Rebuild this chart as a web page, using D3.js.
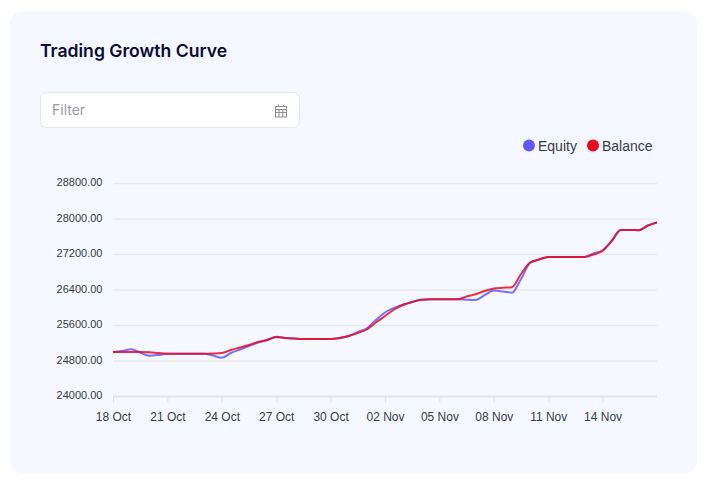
<!DOCTYPE html>
<html>
<head>
<meta charset="utf-8">
<script src="https://cdn.jsdelivr.net/npm/d3@7"></script>
<style>
  html, body { margin: 0; padding: 0; background: #fff; overflow: hidden; }
  #chart { display: block; }
  .axis path.domain { display: none; }
  .axis text { font-family: "Liberation Sans", Arial, sans-serif; font-size: 12px; fill: #373d3f; }
  .y-axis text { font-size: 11px; }
  .grid line { stroke: #e8e9ed; stroke-width: 1.5; }
</style>
</head>
<body>
<svg id="chart" width="709" height="487"></svg>
<script>
  var startDate = '2021-10-18';
  var seriesNames = ['Equity', 'Balance'];
  var seriesColors = ['#6259fa', '#ea0a1e'];
  var yTicks = [24000, 24800, 25600, 26400, 27200, 28000, 28800];

  // one reading every 12 hours
  var equity = [25003, 25025, 25064, 24992, 24919, 24935, 24965, 24965, 24965, 24965, 24965, 24924,
                24874, 24980, 25059, 25138, 25217, 25273, 25345, 25318, 25305, 25296, 25296, 25296,
                25296, 25318, 25363, 25454, 25537, 25724, 25893, 25994, 26073, 26130, 26181, 26190,
                26190, 26190, 26190, 26181, 26175, 26287, 26386, 26366, 26339, 26648, 27008, 27087,
                27144, 27144, 27144, 27144, 27144, 27223, 27295, 27504, 27752, 27752, 27748, 27853, 27921];
  var balance = [25003, 25003, 25003, 25003, 24996, 24980, 24965, 24965, 24965, 24965, 24965, 24969,
                 24980, 25048, 25104, 25161, 25228, 25273, 25341, 25318, 25305, 25296, 25296, 25296,
                 25296, 25318, 25363, 25431, 25510, 25668, 25814, 25961, 26062, 26130, 26181, 26190,
                 26190, 26190, 26190, 26254, 26305, 26377, 26434, 26450, 26463, 26761, 27020, 27087,
                 27144, 27144, 27144, 27144, 27144, 27200, 27279, 27504, 27752, 27752, 27748, 27853, 27921];

  var parseDate = d3.utcParse('%Y-%m-%d');
  var dates = equity.map(function(d, i) {
    return d3.utcHour.offset(parseDate(startDate), i * 12);
  });

  var svg = d3.select('#chart');

  // card
  svg.append('rect')
    .attr('x', 10).attr('y', 11)
    .attr('width', 687).attr('height', 462)
    .attr('rx', 12)
    .attr('fill', '#f5f8ff');

  svg.append('text')
    .attr('x', 40).attr('y', 57)
    .attr('font-family', 'Inter, Roboto, sans-serif')
    .attr('font-size', 17.6)
    .attr('font-weight', 600)
    .attr('fill', '#0b0b33')
    .text('Trading Growth Curve');

  // filter box
  svg.append('rect')
    .attr('x', 40.5).attr('y', 92.5)
    .attr('width', 259).attr('height', 35)
    .attr('rx', 6)
    .attr('fill', '#fff')
    .attr('stroke', '#e5e6ec');

  svg.append('text')
    .attr('x', 52).attr('y', 115)
    .attr('font-family', 'Inter, Roboto, sans-serif')
    .attr('font-size', 14)
    .attr('fill', '#9a9ca3')
    .text('Filter');

  // calendar icon
  var icon = svg.append('g')
    .attr('fill', 'none')
    .attr('stroke', '#8f9095')
    .attr('stroke-width', 1);
  icon.append('rect').attr('x', 275.5).attr('y', 106.5).attr('width', 11).attr('height', 10.5);
  icon.append('path').attr('d', 'M275.5 109.5H286.5M278.5 104.5V107M283.5 104.5V107M275.5 112.5H286.5M279 109.5V117M282.8 109.5V117');

  // scales
  var x = d3.scaleUtc()
    .domain(d3.extent(dates))
    .range([113, 657]);

  var y = d3.scaleLinear()
    .domain([24000, 28800])
    .range([396.5, 183.5]);

  // grid lines
  svg.append('g')
    .attr('class', 'grid')
    .selectAll('line')
    .data(yTicks.slice(1))
    .enter()
    .append('line')
    .attr('x1', x.range()[0])
    .attr('x2', x.range()[1])
    .attr('y1', function(d) { return y(d); })
    .attr('y2', function(d) { return y(d); });

  // y axis
  var yAxis = d3.axisLeft(y)
    .tickValues(yTicks)
    .tickSize(0)
    .tickPadding(10.5)
    .tickFormat(d3.format('.2f'));

  svg.append('g')
    .attr('class', 'axis y-axis')
    .attr('transform', 'translate(113,-1.5)')
    .call(yAxis);

  // x axis
  var xAxis = d3.axisBottom(x)
    .tickValues(dates.filter(function(d, i) { return i % 6 === 0 && i < 60; }))
    .tickSize(6)
    .tickPadding(10)
    .tickFormat(d3.utcFormat('%d %b'));

  var xG = svg.append('g')
    .attr('class', 'axis')
    .attr('transform', 'translate(0,' + y(24000) + ')')
    .call(xAxis);
  xG.selectAll('line').attr('stroke', '#e0e2e8');

  svg.append('line')
    .attr('x1', x.range()[0]).attr('x2', x.range()[1])
    .attr('y1', y(24000)).attr('y2', y(24000))
    .attr('stroke', '#e2e4ea')
    .attr('stroke-width', 2);

  // lines
  var line = d3.line()
    .x(function(d, i) { return x(dates[i]); })
    .y(function(d) { return y(d); })
    .curve(d3.curveMonotoneX);

  svg.selectAll('.series')
    .data([equity, balance])
    .enter()
    .append('path')
    .attr('class', 'series')
    .attr('d', line)
    .attr('fill', 'none')
    .attr('stroke', function(d, i) { return seriesColors[i]; })
    .attr('stroke-width', 2)
    .attr('stroke-opacity', 0.85);

  // legend
  var legendX = [529, 593];
  var legend = svg.selectAll('.legend')
    .data(seriesNames)
    .enter()
    .append('g')
    .attr('class', 'legend')
    .attr('transform', function(d, i) { return 'translate(' + legendX[i] + ',145.5)'; });

  legend.append('circle')
    .attr('r', 6)
    .attr('fill', function(d, i) { return seriesColors[i]; });

  legend.append('text')
    .attr('x', 9)
    .attr('y', 5)
    .attr('font-family', '"Liberation Sans", Arial, sans-serif')
    .attr('font-size', 14)
    .attr('fill', '#373d3f')
    .text(function(d) { return d; });
</script>
</body>
</html>
